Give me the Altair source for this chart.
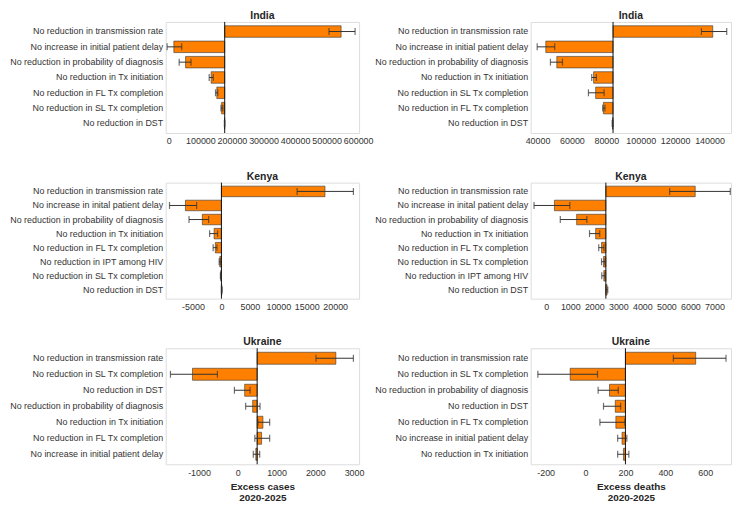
import altair as alt
import pandas as pd

# ---------------- data ----------------
# India, excess cases
india_cases_cats = ["No reduction in transmission rate", "No increase in initial patient delay",
                    "No reduction in probability of diagnosis", "No reduction in Tx initiation",
                    "No reduction in FL Tx completion", "No reduction in SL Tx completion",
                    "No reduction in DST"]
india_cases_vals = [546000, 15800, 53000, 134000, 152000, 167300, 176500]
india_cases_lo = [507600, -5500, 32700, 127900, 147900, 165200, 176000]
india_cases_hi = [590300, 40900, 70300, 140900, 155200, 171200, 177500]
india_cases_base = 177000
india_cases_domain = [-10000, 603000]
india_cases_ticks = [0, 100000, 200000, 300000, 400000, 500000, 600000]

# India, excess deaths
india_deaths_cats = ["No reduction in transmission rate", "No increase in initial patient delay",
                     "No reduction in probability of diagnosis", "No reduction in Tx initiation",
                     "No reduction in SL Tx completion", "No reduction in FL Tx completion",
                     "No reduction in DST"]
india_deaths_vals = [141900, 44800, 51200, 72600, 73800, 78300, 83600]
india_deaths_lo = [135300, 39800, 47500, 71500, 69600, 77900, 83400]
india_deaths_hi = [150000, 50000, 54500, 74200, 78700, 79200, 83800]
india_deaths_base = 83900
india_deaths_domain = [36000, 152500]
india_deaths_ticks = [40000, 60000, 80000, 100000, 120000, 140000]

# Kenya, excess cases
kenya_cases_cats = ["No reduction in transmission rate", "No increase in inital patient delay",
                    "No reduction in probability of diagnosis", "No reduction in Tx initiation",
                    "No reduction in FL Tx completion", "No reduction in IPT among HIV",
                    "No reduction in SL Tx completion", "No reduction in DST"]
kenya_cases_vals = [18200, -6330, -3360, -1290, -1070, -290, -120, 70]
kenya_cases_lo = [13300, -9130, -5700, -2080, -1460, -400, -180, 0]
kenya_cases_hi = [23200, -4360, -2250, -670, -790, -120, -60, 130]
kenya_cases_base = 0
kenya_cases_domain = [-9800, 24200]
kenya_cases_ticks = [-5000, 0, 5000, 10000, 15000, 20000]

# Kenya, excess deaths
kenya_deaths_cats = ["No reduction in transmission rate", "No increase in inital patient delay",
                     "No reduction in probability of diagnosis", "No reduction in Tx initiation",
                     "No reduction in FL Tx completion", "No reduction in SL Tx completion",
                     "No reduction in IPT among HIV", "No reduction in DST"]
kenya_deaths_vals = [6200, 340, 1264, 2055, 2300, 2383, 2395, 2530]
kenya_deaths_lo = [5136, -510, 583, 1800, 2183, 2300, 2310, 2480]
kenya_deaths_hi = [7660, 980, 1690, 2225, 2400, 2440, 2440, 2560]
kenya_deaths_base = 2480
kenya_deaths_domain = [-650, 7690]
kenya_deaths_ticks = [0, 1000, 2000, 3000, 4000, 5000, 6000, 7000]

# Ukraine, excess cases
ukraine_cases_cats = ["No reduction in transmission rate", "No reduction in SL Tx completion",
                      "No reduction in DST", "No reduction in probability of diagnosis",
                      "No reduction in Tx initiation", "No reduction in FL Tx completion",
                      "No increase in initial patient delay"]
ukraine_cases_vals = [2530, -1168, 178, 384, 649, 614, 465]
ukraine_cases_lo = [2017, -1737, -87, 203, 520, 440, 400]
ukraine_cases_hi = [2983, -525, 317, 574, 822, 822, 565]
ukraine_cases_base = 500
ukraine_cases_domain = [-1860, 3130]
ukraine_cases_ticks = [-1000, 0, 1000, 2000, 3000]

# Ukraine, excess deaths
ukraine_deaths_cats = ["No reduction in transmission rate", "No reduction in SL Tx completion",
                       "No reduction in probability of diagnosis", "No reduction in DST",
                       "No reduction in FL Tx completion", "No increase in initial patient delay",
                       "No reduction in Tx initiation"]
ukraine_deaths_vals = [552, -77, 120, 149, 152, 183, 190]
ukraine_deaths_lo = [440, -239, 63, 90, 72, 161, 161]
ukraine_deaths_hi = [704, 60, 164, 176, 197, 207, 217]
ukraine_deaths_base = 200
ukraine_deaths_domain = [-275, 729]
ukraine_deaths_ticks = [-200, 0, 200, 400, 600]

FONT = "Liberation Sans"
ORANGE = "#FF8000"
INK = "#262626"


def panel(title, cats, vals, lo, hi, base, domain, ticks, width, height, xtitle=None):
    df = pd.DataFrame({"cat": cats, "val": vals, "lo": lo, "hi": hi,
                       "base": [base] * len(cats)})
    xscale = alt.Scale(domain=domain, nice=False, zero=False)
    axis_kw = dict(values=ticks, labelExpr="datum.value + ''", ticks=False, domain=False,
                   grid=False, labelFontSize=9, labelColor="#333", labelPadding=4,
                   labelFont=FONT, labelOverlap=False, labelFlush=False, labelBound=False)
    if xtitle is not None:
        axis_kw.update(title=xtitle, titleFontSize=10, titleFontWeight="bold",
                       titleColor=INK, titleFont=FONT, titlePadding=4, titleLineHeight=12)
    else:
        axis_kw.update(title=None)
    xaxis = alt.Axis(**axis_kw)
    yaxis = alt.Axis(ticks=False, domain=False, grid=False, labelFontSize=9, labelColor="#333",
                     labelPadding=3, labelLimit=400, labelFont=FONT, title=None)
    ysc = alt.Scale(paddingInner=0.25, paddingOuter=0.25)

    def X(field):
        return alt.X(field + ":Q", scale=xscale, axis=xaxis)

    def Y():
        return alt.Y("cat:N", sort=cats, scale=ysc, axis=yaxis, title=None)

    bars = alt.Chart(df).mark_bar(color=ORANGE, stroke="#333", strokeWidth=0.6).encode(
        x=X("base"), x2="val:Q", y=Y())
    baseline = alt.Chart(pd.DataFrame({"base": [base]})).mark_rule(
        color="#111", strokeWidth=1).encode(x=X("base"))
    err = alt.Chart(df).mark_rule(color="#333", strokeWidth=1).encode(
        x=X("lo"), x2="hi:Q", y=Y())
    cap_lo = alt.Chart(df).mark_tick(color="#333", thickness=1.2, size=7).encode(
        x=X("lo"), y=Y())
    cap_hi = alt.Chart(df).mark_tick(color="#333", thickness=1.2, size=7).encode(
        x=X("hi"), y=Y())
    return alt.layer(bars, baseline, err, cap_lo, cap_hi).properties(
        width=width, height=height,
        title=alt.TitleParams(title, fontSize=10.5, fontWeight="bold", color=INK, font=FONT,
                              offset=0, frame="group", anchor="middle"))


LW, RW = 195, 202
charts = [
    panel("India", india_cases_cats, india_cases_vals, india_cases_lo, india_cases_hi,
          india_cases_base, india_cases_domain, india_cases_ticks, LW, 112),
    panel("India", india_deaths_cats, india_deaths_vals, india_deaths_lo, india_deaths_hi,
          india_deaths_base, india_deaths_domain, india_deaths_ticks, RW, 112),
    panel("Kenya", kenya_cases_cats, kenya_cases_vals, kenya_cases_lo, kenya_cases_hi,
          kenya_cases_base, kenya_cases_domain, kenya_cases_ticks, LW, 117),
    panel("Kenya", kenya_deaths_cats, kenya_deaths_vals, kenya_deaths_lo, kenya_deaths_hi,
          kenya_deaths_base, kenya_deaths_domain, kenya_deaths_ticks, RW, 117),
    panel("Ukraine", ukraine_cases_cats, ukraine_cases_vals, ukraine_cases_lo, ukraine_cases_hi,
          ukraine_cases_base, ukraine_cases_domain, ukraine_cases_ticks, LW, 117,
          xtitle=["Excess cases", "2020-2025"]),
    panel("Ukraine", ukraine_deaths_cats, ukraine_deaths_vals, ukraine_deaths_lo, ukraine_deaths_hi,
          ukraine_deaths_base, ukraine_deaths_domain, ukraine_deaths_ticks, RW, 117,
          xtitle=["Excess deaths", "2020-2025"]),
]

chart = alt.concat(*charts, columns=2, spacing={"row": 50, "column": 173}, bounds="flush").resolve_scale(
    x="independent", y="independent").resolve_axis(x="independent", y="independent").properties(
    padding={"left": 0, "top": 0, "right": 0, "bottom": 0}).configure_view(
    stroke="#777", strokeWidth=1).configure_axis(labelOverlap=False).configure(
    font=FONT, background="white")

chart.save("out.html", embed_options={"renderer": "svg", "actions": False})
